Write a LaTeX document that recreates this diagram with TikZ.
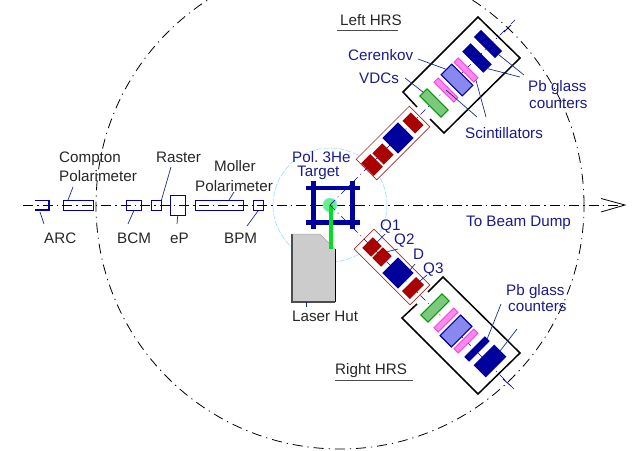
\documentclass[tikz,border=0pt]{standalone}
\usepackage{fontspec}
\setmainfont{Liberation Sans}
\definecolor{navyT}{HTML}{1A1A8C}
\definecolor{inkT}{HTML}{262626}
\definecolor{navyF}{HTML}{00009C}
\definecolor{redF}{HTML}{AA0000}
\definecolor{frameR}{HTML}{A82A2A}
\definecolor{pinkF}{HTML}{FF88EE}
\definecolor{pinkD}{HTML}{EE44DD}
\definecolor{cerF}{HTML}{8888EE}
\definecolor{greenF}{HTML}{7CC87C}
\definecolor{greenD}{HTML}{009900}
\definecolor{lineB}{HTML}{1A2E8C}
\definecolor{cellF}{HTML}{66EE88}
\definecolor{beamG}{HTML}{00DD22}
\definecolor{hallC}{HTML}{A6E0FF}
\tikzset{
 lab/.style={anchor=west,inner sep=0pt,text height=11pt,text depth=3pt,font=\fontsize{15.2}{17}\selectfont\frenchspacing,text=navyT},
 labk/.style={lab,text=inkT},
 device/.style 2 args={draw=navyF,line width=0.9pt,inner sep=0pt,minimum width=#1,minimum height=#2},
 part/.style n args={3}{inner sep=0pt,outer sep=0pt,minimum width=#1,minimum height=#2,rotate=#3},
 quad/.style={fill=redF,draw=none},
 dip/.style={fill=navyF,draw=none},
 scint/.style={fill=pinkF,draw=pinkD,line width=0.8pt},
 cer/.style={fill=cerF,draw=navyF,line width=1.1pt},
 vdc/.style={fill=greenF,draw=greenD,line width=1.1pt},
 frameq/.style={draw=frameR,line width=0.7pt},
 leader/.style={draw=lineB,line width=0.7pt},
 axis/.style={draw=navyF,line width=0.6pt,dash pattern=on 7pt off 4pt on 1pt off 4pt},
 bigc/.style={draw=black,line width=0.8pt,dash pattern=on 10pt off 5pt on 1.2pt off 5pt},
 hrs/.style={draw=black,line width=1.5pt},
 bar/.style={fill=navyF,draw=none},
}
\begin{document}
\begin{tikzpicture}[x=1pt,y=-1pt]
\useasboundingbox (0,0) rectangle (632,450);
\begin{scope}
\clip (0,0) rectangle (632,450);
\coordinate (bigO) at (340,205);
\draw[bigc] (bigO) circle[radius=244pt];
\end{scope}
% target hall circle
\coordinate (tgt) at (330,205);
\draw[draw=hallC,line width=0.7pt,dash pattern=on 6pt off 1.5pt] (tgt) circle[radius=57pt];
% laser hut
\coordinate (h1) at (292,234); \coordinate (h2) at (320,234); \coordinate (h3) at (335,249);
\coordinate (h4) at (335,302); \coordinate (h5) at (292,302);
\fill[black!20] (h1)--(h2)--(h3)--(h4)--(h5)--cycle;
\draw[black!70,line width=1.1pt] (h1)--(h5)--(h4);
\draw[black,line width=0.7pt] (h3)--(h4);
\draw[black!35,line width=0.5pt] (h1)--(h2)--(h3);
% beam line
\coordinate (bs) at (23,205); \coordinate (be) at (625,205);
\coordinate (bt1) at (601,198.5); \coordinate (bt2) at (601,212);
\draw[draw=black,line width=0.8pt,dash pattern=on 10pt off 4pt on 1.5pt off 4pt] (bs)--(be);
\draw[draw=black,line width=0.8pt] (bt1)--(be)--(bt2);
% beam line devices
\node[device={29.5pt}{10pt}] (comptonb) at (78.2,205.5) {};
\node[device={15.5pt}{10pt}] (bcm) at (133.7,205.5) {};
\node[device={10pt}{10pt}] (raster) at (156,205.5) {};
\node[device={14.5pt}{20pt}] (ep) at (177.7,205.5) {};
\node[device={48.5pt}{10pt}] (moller) at (219.2,205.5) {};
\node[device={10pt}{10pt}] (bpm) at (258,205.5) {};
\coordinate (a1) at (35,200.5); \coordinate (a2) at (49,200.5); \coordinate (a3) at (49,210); \coordinate (a4) at (35,210);
\draw[draw=navyF,line width=1.6pt] (a1)--(a2)--(a3)--(a4);
% quadrupole frames
\node[part={75pt}{29pt}{45},frameq,fill=white] (lfr) at (393,143) {};
\node[part={79pt}{28pt}{-45},frameq,fill=white] (rfr) at (392,267) {};
% HRS axes
\coordinate (laxe) at (515,20); \coordinate (raxe) at (514,389);
\draw[axis] (tgt)--(laxe);
\draw[axis] (tgt)--(raxe);
% target frame
\node[bar,part={54pt}{4.5pt}{0}] (bart) at (333,188) {};
\node[bar,part={54pt}{4.5pt}{0}] (barb) at (333,222.5) {};
\node[bar,part={4.5pt}{48pt}{0}] (barl) at (313.5,205) {};
\node[bar,part={4.5pt}{48pt}{0}] (barr) at (352.5,205) {};
\node[circle,inner sep=0pt,minimum size=14pt,fill=cellF,draw=hallC,line width=0.6pt] (cell) at (330,205) {};
\coordinate (bend) at (331,249);
\draw[draw=beamG,line width=3.5pt] (331,205)--(bend);
\coordinate (st1) at (338,197); \coordinate (st2) at (338,213);
\draw[axis] (tgt)--(st1);
\draw[axis] (tgt)--(st2);
% left HRS
\node[part={12pt}{18pt}{45},quad] (lq3) at (413,123) {};
\node[part={22pt}{22pt}{45},dip] (ld) at (398,138) {};
\node[part={14pt}{16pt}{45},quad] (lq2) at (383,154) {};
\node[part={13pt}{18pt}{45},quad] (lq1) at (372,165) {};
\coordinate (lb0) at (417,107); \coordinate (lb1) at (403,92); \coordinate (lb2) at (478,17);
\coordinate (lb3) at (520,58); \coordinate (lb4) at (444,133); \coordinate (lb5) at (430,119);
\draw[hrs] (lb0)--(lb1)--(lb2)--(lb3)--(lb4)--(lb5);
\node[part={10pt}{30pt}{45},vdc] (lvdc) at (434,103) {};
\node[part={6pt}{28pt}{45},scint] (ls1) at (446,90) {};
\node[part={15pt}{30pt}{45},cer] (lcer) at (457,80) {};
\node[part={6pt}{28pt}{45},scint] (ls2) at (466,70) {};
\node[part={12pt}{30pt}{45},dip] (lpb1) at (477,58) {};
\node[part={10pt}{30pt}{45},dip] (lpb2) at (488,44) {};
\coordinate (lt1) at (504,32); \coordinate (lt2) at (511,25);
\draw[draw=navyF,line width=0.8pt] (lt1)--(lt2);
% right HRS
\node[part={12.5pt}{15pt}{-45},quad] (rq1) at (372,247) {};
\node[part={12.5pt}{15pt}{-45},quad] (rq2) at (382,257) {};
\node[part={22pt}{22pt}{-45},dip] (rd) at (398,273) {};
\node[part={11pt}{20pt}{-45},quad] (rq3) at (413,288) {};
\coordinate (rb0) at (428,292); \coordinate (rb1) at (443,277); \coordinate (rb2) at (520,353);
\coordinate (rb3) at (478,394); \coordinate (rb4) at (402,318); \coordinate (rb5) at (417,304);
\draw[hrs] (rb0)--(rb1)--(rb2)--(rb3)--(rb4)--(rb5);
\node[part={10pt}{30pt}{-45},vdc] (rvdc) at (435,308) {};
\node[part={6pt}{28pt}{-45},scint] (rs1) at (446,320) {};
\node[part={16pt}{29pt}{-45},cer] (rcer) at (456,331) {};
\node[part={6pt}{28pt}{-45},scint] (rs2) at (466,341) {};
\node[part={7pt}{29pt}{-45},dip] (rpb1) at (477,349) {};
\node[part={17pt}{29pt}{-45},dip] (rpb2) at (490,361) {};
\coordinate (rt1) at (503,379); \coordinate (rt2) at (511,386);
\draw[draw=navyF,line width=0.8pt] (rt1)--(rt2);
% labels
\node[labk] (tCompton) at (59,158.5) {Compton};
\node[labk] (tPol1) at (59,177.5) {Polarimeter};
\node[labk] (tRaster) at (156,158.5) {Raster};
\node[labk] (tMoller) at (214,167.5) {Moller};
\node[labk] (tPol2) at (195,187.5) {Polarimeter};
\node[labk] (tARC) at (44,239.5) {ARC};
\node[labk] (tBCM) at (117,239.5) {BCM};
\node[labk] (tEP) at (170,239.5) {eP};
\node[labk] (tBPM) at (224,239.5) {BPM};
\node[labk] (tHut) at (292,317.5) {Laser Hut};
\node[labk] (tLeft) at (340,21.5) {Left HRS};
\node[labk] (tRight) at (335,370.5) {Right HRS};
\node[lab] (tPolT) at (292,158.5) {Pol. 3He};
\node[lab] (tTarget) at (297,172.5) {Target};
\node[lab] (tQ1) at (380,226.5) {Q1};
\node[lab] (tQ2) at (394,240.5) {Q2};
\node[lab] (tD) at (413,255.5) {D};
\node[lab] (tQ3) at (423,269.5) {Q3};
\node[lab] (tCer) at (348,56.5) {Cerenkov};
\node[lab] (tVDC) at (359,79.5) {VDCs};
\node[lab] (tSci) at (465,134.5) {Scintillators};
\node[lab] (tPbL1) at (528,87.5) {Pb glass};
\node[lab] (tPbL2) at (529,104.5) {counters};
\node[lab] (tPbR1) at (506,291.5) {Pb glass};
\node[lab] (tPbR2) at (508,307.5) {counters};
\node[lab] (tDump) at (466,222.5) {To Beam Dump};
% underlines
\coordinate (ul1) at (337,30); \coordinate (ul2) at (398,30);
\coordinate (ur1) at (335,380); \coordinate (ur2) at (413,380);
\draw[black!70,line width=0.7pt] (ul1)--(ul2);
\draw[black!70,line width=0.7pt] (ur1)--(ur2);
% leaders
\coordinate (cARC1) at (40,212); \coordinate (cARC2) at (44,224);
\draw[leader] (cARC1)--(cARC2);
\coordinate (cC0) at (68,200); \coordinate (cC) at (73,187); \draw[leader] (cC0)--(cC);
\coordinate (cB) at (128,224); \draw[leader] (bcm.south)--(cB);
\coordinate (cR) at (171,167); \draw[leader] (raster.north east)--(cR);
\coordinate (cE) at (177,224); \draw[leader] (ep.south)--(cE);
\coordinate (cM0) at (229,200); \coordinate (cM) at (234,192); \draw[leader] (cM0)--(cM);
\coordinate (cP) at (247,226); \draw[leader] (bpm.south)--(cP);
\coordinate (cCer) at (418,59); \draw[leader] (lcer.north)--(cCer);
\coordinate (cVDC) at (405,78); \draw[leader] (lvdc.north)--(cVDC);
\coordinate (cS1) at (477,117); \draw[leader] (ls1.center)--(cS1);
\coordinate (cS2) at (486,117); \draw[leader] (ls2.south)--(cS2);
\coordinate (cP1) at (520,77); \draw[leader] (lpb1.south)--(cP1);
\coordinate (cP2) at (524,75); \draw[leader] (lpb2.south)--(cP2);
\coordinate (cR1) at (501,304); \draw[leader] (rpb1.north)--(cR1);
\coordinate (cR2) at (517,329); \draw[leader] (rpb2.north)--(cR2);
\coordinate (cQ1) at (385,234); \draw[leader] (rq1.north)--(cQ1);
\coordinate (cQ2) at (398,249); \draw[leader] (rq2.north)--(cQ2);
\coordinate (cD0) at (410,270); \coordinate (cD) at (415,264); \draw[leader] (cD0)--(cD);
\coordinate (cQ3) at (427,275); \draw[leader] (rq3.north)--(cQ3);
\coordinate (cH0) at (306,302); \coordinate (cH) at (306,307); \draw[leader] (cH0)--(cH);
\end{tikzpicture}
\end{document}
